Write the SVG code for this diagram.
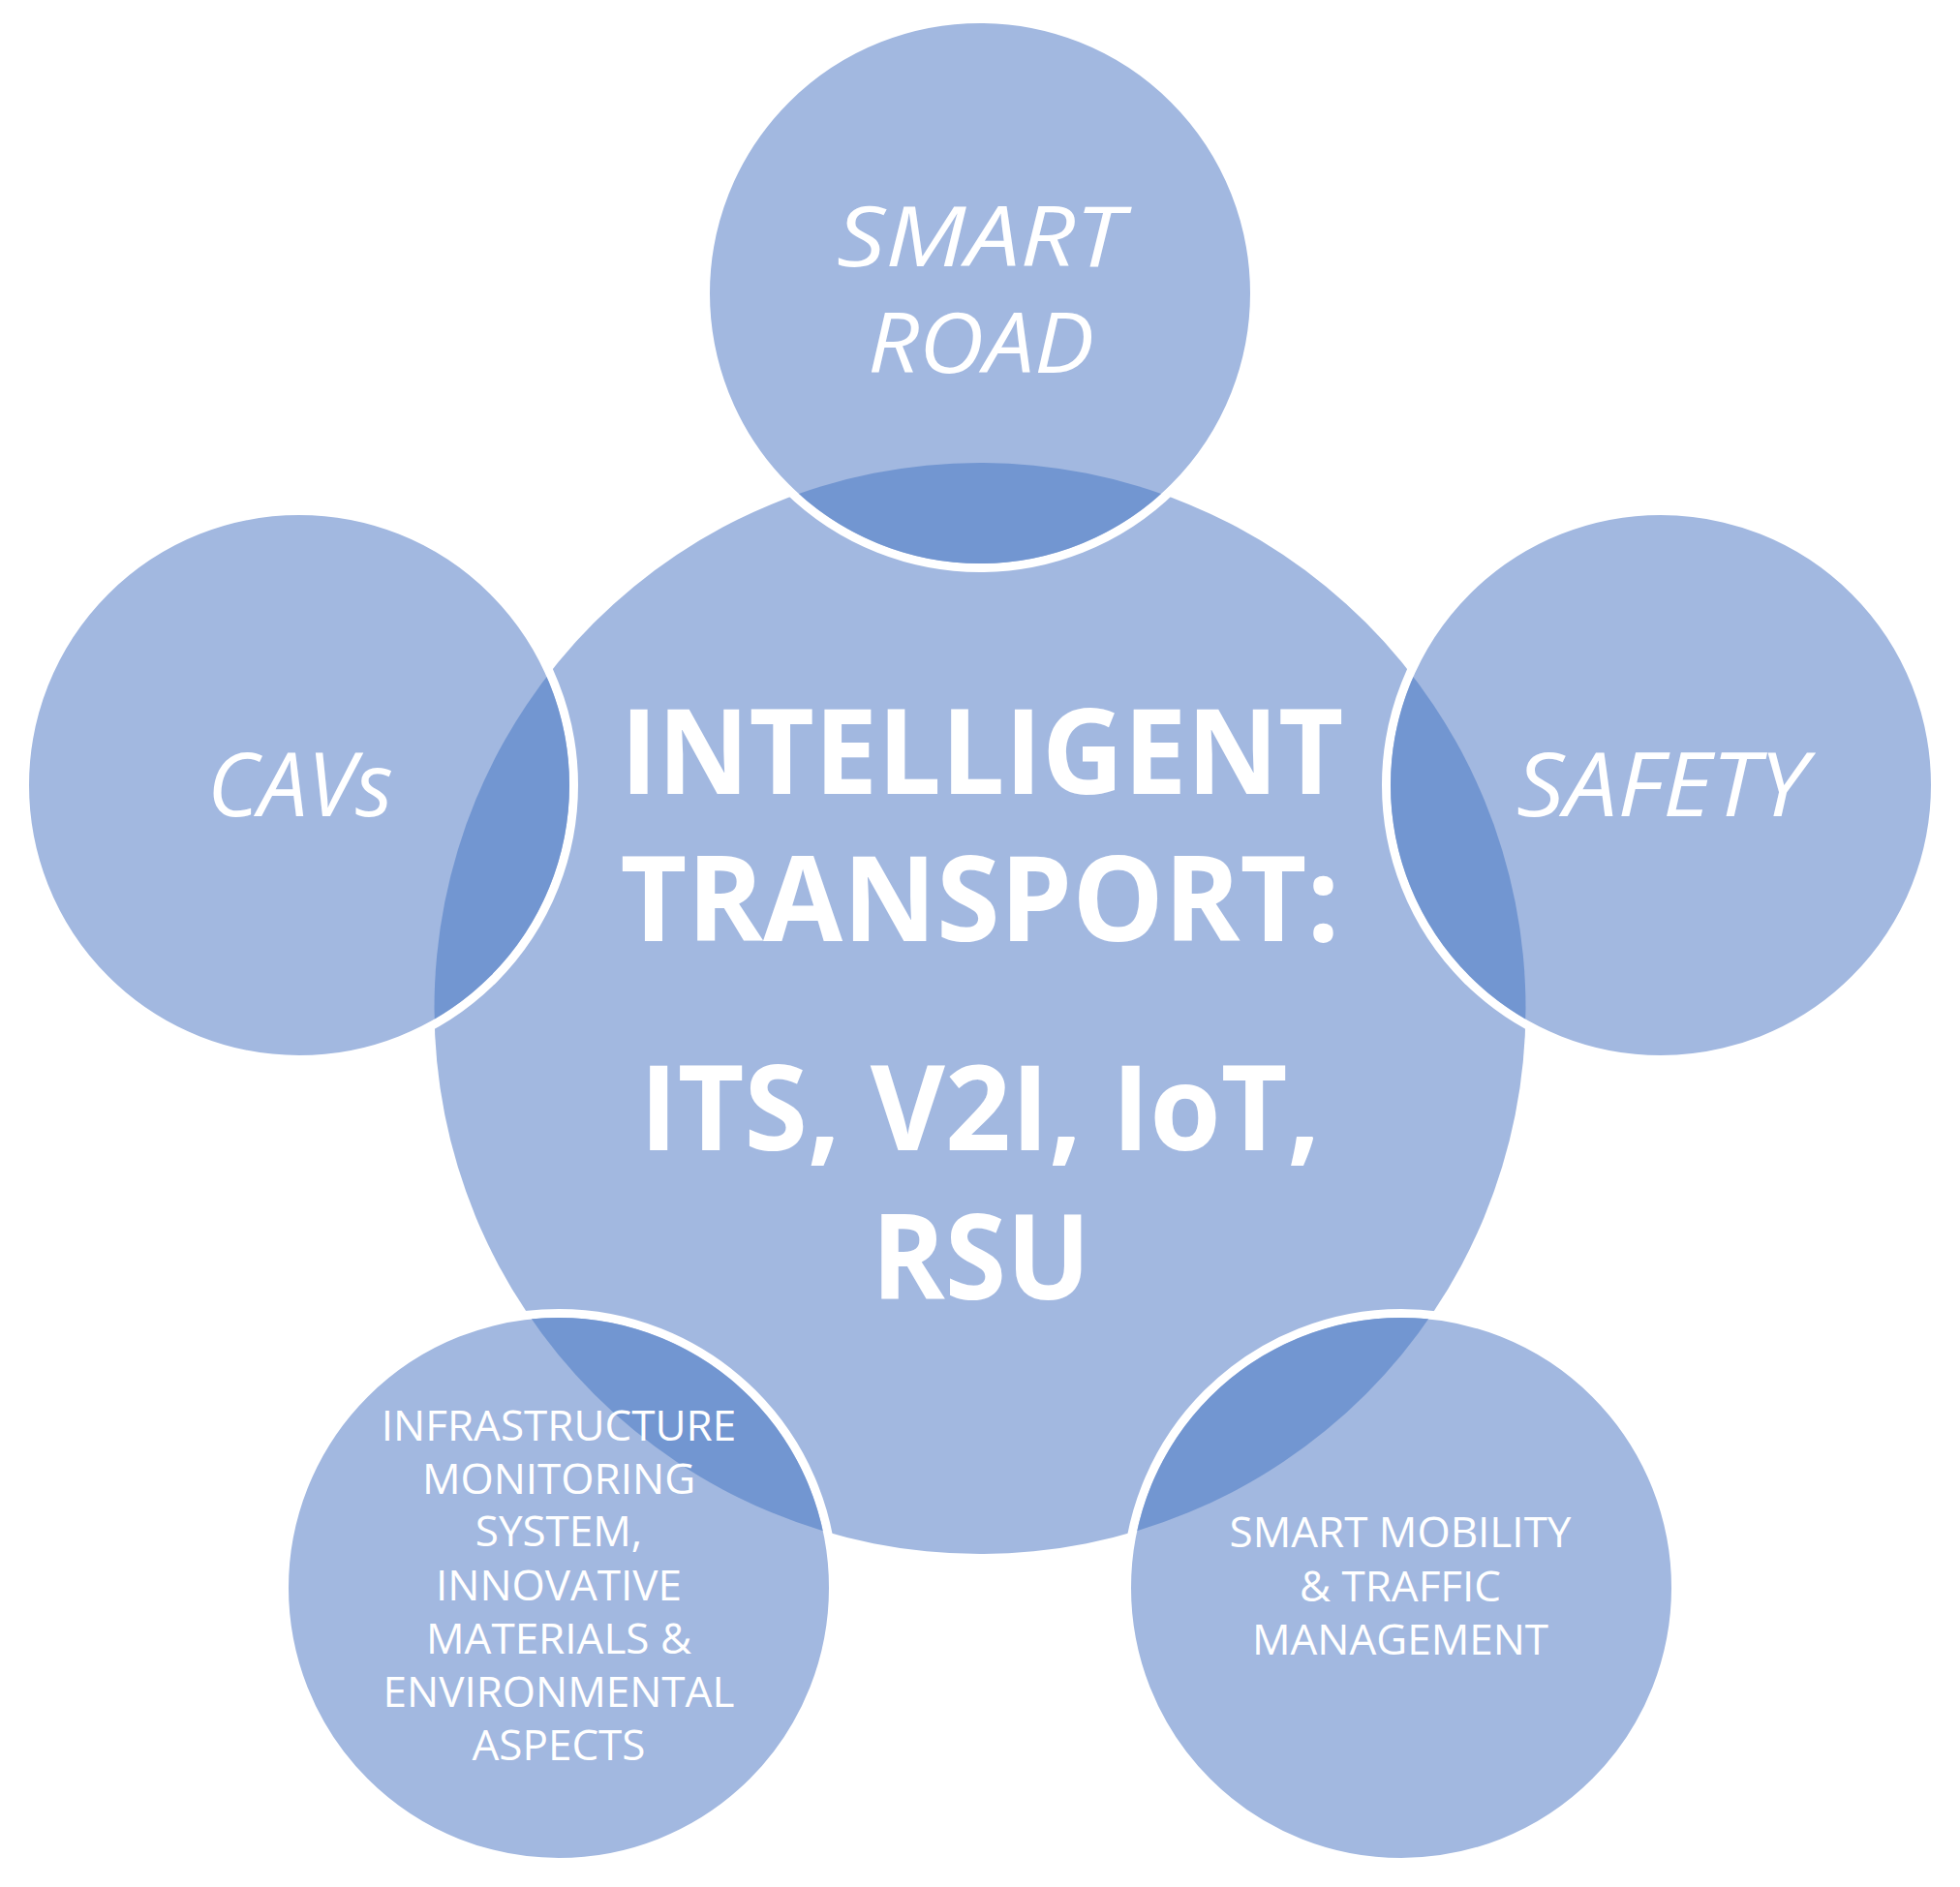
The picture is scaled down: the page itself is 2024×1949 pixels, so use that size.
<svg xmlns="http://www.w3.org/2000/svg" width="2024" height="1949" viewBox="0 0 2024 1949">
<style>
.base{fill:#A2B8E0}
.ring{fill:#A2B8E0;stroke:#FFFFFF;stroke-width:9}
.lens{fill:#7296D1}
.t{fill:#FFFFFF;font-family:"Open Sans","Liberation Sans",sans-serif;text-anchor:middle}
.big{font-size:122px;font-weight:bold}
.it{font-size:92px;font-style:italic}
.it2{font-size:86px;font-style:italic}
.sm{font-size:44px}
</style>
<defs>
<clipPath id="cc"><circle cx="1012" cy="1041.5" r="563.5"/></clipPath>
</defs>
<rect width="2024" height="1949" fill="#FFFFFF"/>
<g id="center">
<circle class="base" cx="1012" cy="1041.5" r="563.5"/>
</g>
<g id="smart-road">
<circle class="ring" cx="1012" cy="303" r="283.5"/>
<circle class="lens" cx="1012" cy="303" r="279" clip-path="url(#cc)"/>
<text class="t it2" x="1012" y="275" textLength="296" lengthAdjust="spacingAndGlyphs">SMART</text>
<text class="t it2" x="1013" y="385" textLength="234" lengthAdjust="spacingAndGlyphs">ROAD</text>
</g>
<g id="cavs">
<circle class="ring" cx="309" cy="811" r="283.5"/>
<circle class="lens" cx="309" cy="811" r="279" clip-path="url(#cc)"/>
<text class="t it" x="310" y="843" textLength="192" lengthAdjust="spacingAndGlyphs">CAVs</text>
</g>
<g id="safety">
<circle class="ring" cx="1715" cy="811" r="283.5"/>
<circle class="lens" cx="1715" cy="811" r="279" clip-path="url(#cc)"/>
<text class="t it" x="1716" y="843" textLength="300" lengthAdjust="spacingAndGlyphs">SAFETY</text>
</g>
<g id="infrastructure">
<circle class="ring" cx="577" cy="1640" r="283.5"/>
<circle class="lens" cx="577" cy="1640" r="279" clip-path="url(#cc)"/>
<text class="t sm" x="577" y="1488">INFRASTRUCTURE</text>
<text class="t sm" x="577" y="1543">MONITORING</text>
<text class="t sm" x="577" y="1597">SYSTEM,</text>
<text class="t sm" x="577" y="1653">INNOVATIVE</text>
<text class="t sm" x="577" y="1708">MATERIALS &amp;</text>
<text class="t sm" x="577" y="1763">ENVIRONMENTAL</text>
<text class="t sm" x="577" y="1818">ASPECTS</text>
</g>
<g id="mobility">
<circle class="ring" cx="1447" cy="1640" r="283.5"/>
<circle class="lens" cx="1447" cy="1640" r="279" clip-path="url(#cc)"/>
<text class="t sm" x="1446" y="1598">SMART MOBILITY</text>
<text class="t sm" x="1446" y="1654">&amp; TRAFFIC</text>
<text class="t sm" x="1446" y="1709">MANAGEMENT</text>
</g>
<g id="center-text">
<text class="t big" x="1014" y="820" textLength="747" lengthAdjust="spacingAndGlyphs">INTELLIGENT</text>
<text class="t big" x="1012" y="972" textLength="743" lengthAdjust="spacingAndGlyphs">TRANSPORT:</text>
<text class="t big" x="1012" y="1188" textLength="703" lengthAdjust="spacingAndGlyphs">ITS, V2I, IoT,</text>
<text class="t big" x="1013" y="1342" textLength="226" lengthAdjust="spacingAndGlyphs">RSU</text>
</g>
<g id="connectors"/>
</svg>
